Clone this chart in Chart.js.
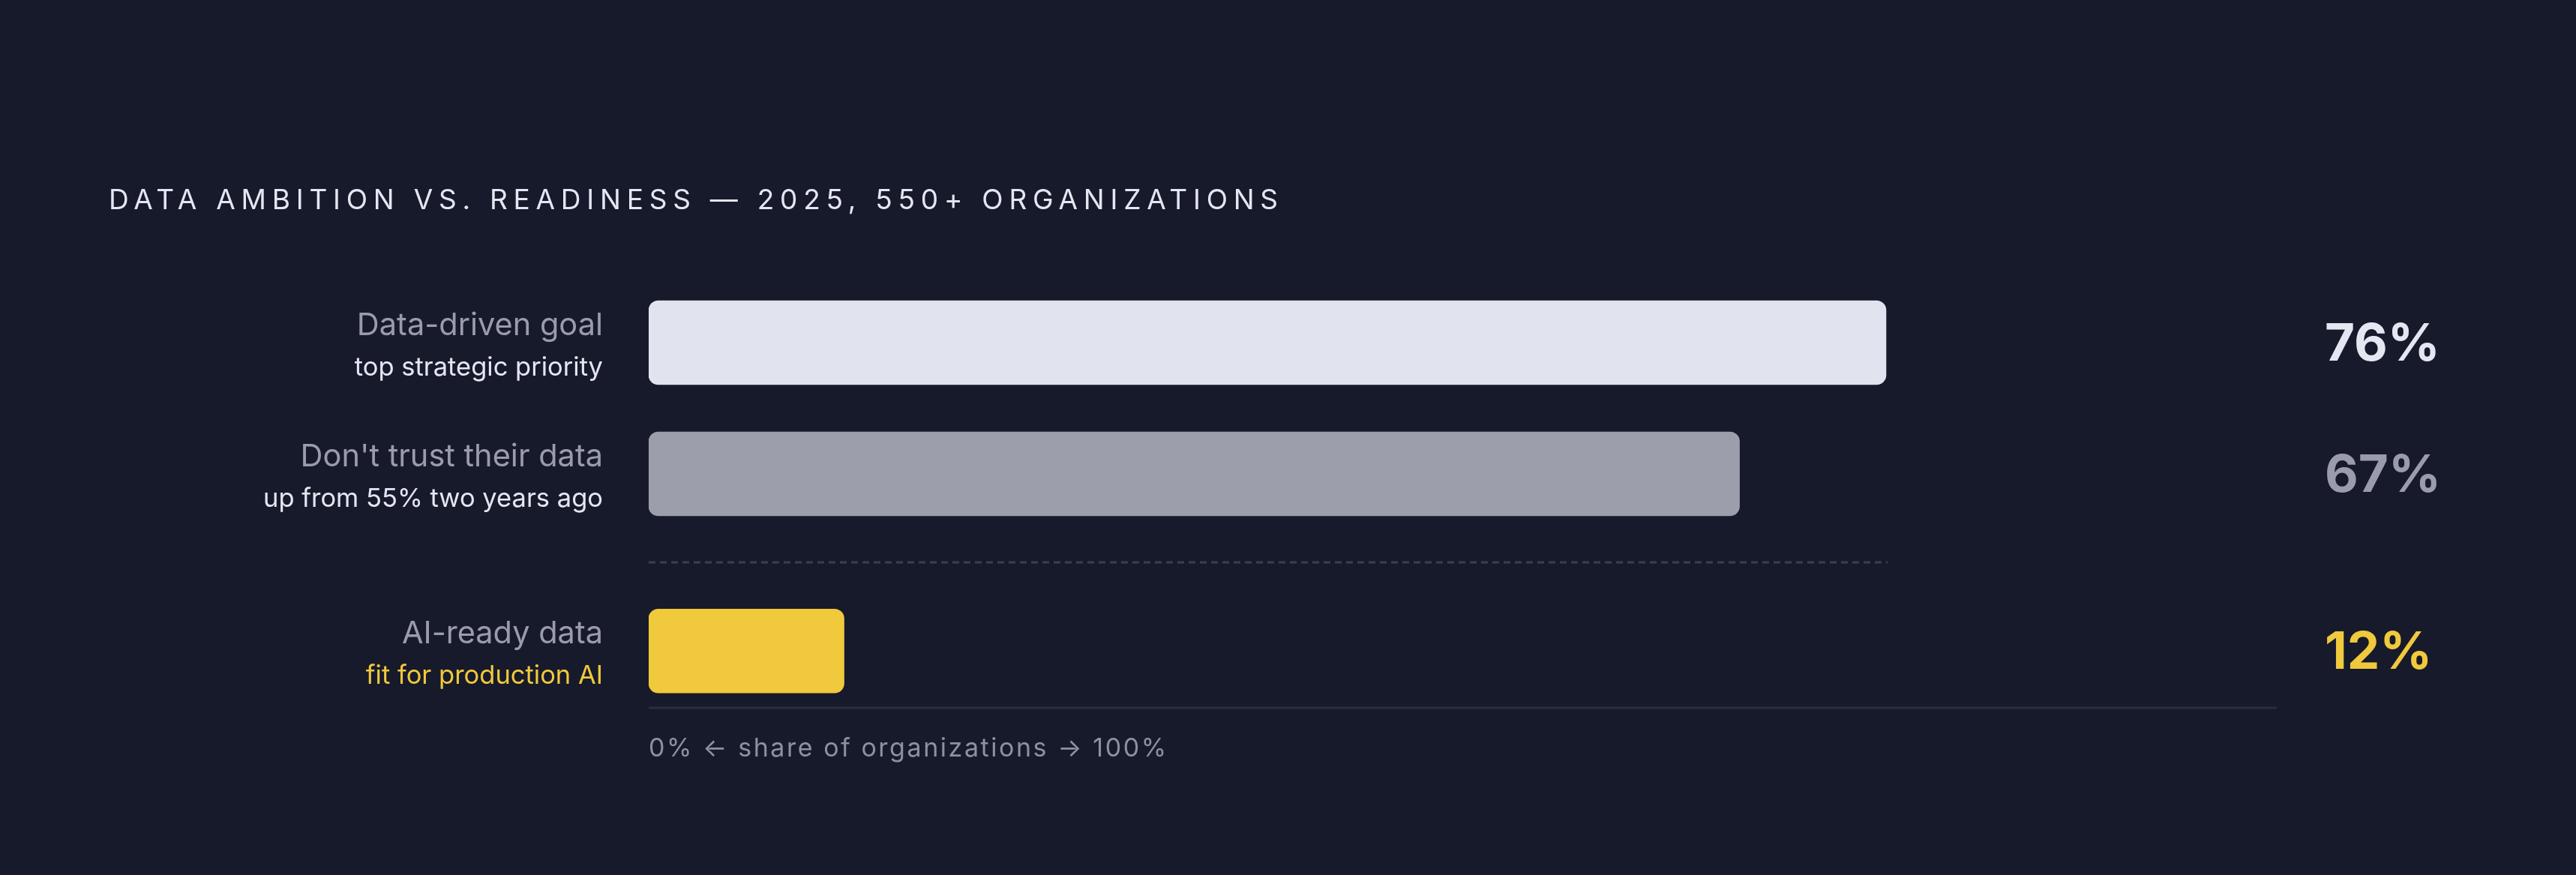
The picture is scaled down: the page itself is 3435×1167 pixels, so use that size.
<!DOCTYPE html>
<html>
<head>
<meta charset="utf-8">
<script src="https://cdn.jsdelivr.net/npm/chart.js@4"></script>
<style>
  html, body { margin: 0; padding: 0; background: #171a2b; }
  #wrap { width: 3435px; height: 1167px; }
</style>
</head>
<body>
<div id="wrap"><canvas id="c" width="3435" height="1167"></canvas></div>
<script>
// ---- data ----
const titleText = "DATA AMBITION VS. READINESS \u2014 2025, 550+ ORGANIZATIONS";
const categories = ["Data-driven goal", "Don't trust their data", "AI-ready data"];
const subLabels = ["top strategic priority", "up from 55% two years ago", "fit for production AI"];
const values = [76, 67, 12];
const valueLabels = ["76%", "67%", "12%"];
const axisCaption = "0% \u2190 share of organizations \u2192 100%";

// ---- layout / style ----
const rowPos = [0, 1, 2.35];
const barColors = ["#e1e3ef", "#9c9eab", "#f0c93c"];
const valueColors = ["#e4e6f2", "#9a9cab", "#f0c93c"];
const subColors = ["#e4e6f2", "#e4e6f2", "#f0c93c"];
const BG = "#171a2b";

const overlay = {
  id: "overlay",
  afterDraw(chart) {
    const ctx = chart.ctx;
    const x = chart.scales.x, y = chart.scales.y;
    const x0 = x.getPixelForValue(0), x100 = x.getPixelForValue(100);
    ctx.save();
    // title
    ctx.font = "400 37px Inter";
    ctx.fillStyle = "#e4e6f2";
    ctx.textBaseline = "middle";
    ctx.textAlign = "left";
    ctx.letterSpacing = "0px";
    const tw = ctx.measureText(titleText).width;
    ctx.letterSpacing = ((1559 - tw) / (titleText.length - 1)).toFixed(2) + "px";
    ctx.fillText(titleText, 145, 268);
    ctx.letterSpacing = "0px";

    // row labels
    for (let i = 0; i < categories.length; i++) {
      const cy = y.getPixelForValue(rowPos[i]);
      ctx.textAlign = "right";
      ctx.textBaseline = "alphabetic";
      ctx.font = "400 41.5px Inter";
      ctx.fillStyle = "#9a9cab";
      ctx.fillText(categories[i], 804, cy - 10);
      ctx.font = "400 34.5px Inter";
      ctx.fillStyle = subColors[i];
      ctx.fillText(subLabels[i], 804, cy + 44);
      // value
      ctx.textAlign = "left";
      ctx.textBaseline = "middle";
      ctx.font = "700 69px Inter";
      ctx.fillStyle = valueColors[i];
      ctx.fillText(valueLabels[i], 3100, cy + 3);
    }

    // dashed separator between groups
    const sepY = y.getPixelForValue((rowPos[1] + rowPos[2]) / 2);
    ctx.strokeStyle = "#3b3e51";
    ctx.lineWidth = 3;
    ctx.setLineDash([9, 6]);
    ctx.beginPath();
    ctx.moveTo(x0, sepY);
    ctx.lineTo(x.getPixelForValue(Math.max(values[0], values[1])) + 2, sepY);
    ctx.stroke();
    ctx.setLineDash([]);

    // axis baseline
    const by = chart.chartArea.bottom;
    ctx.strokeStyle = "#2b2e40";
    ctx.lineWidth = 3;
    ctx.beginPath();
    ctx.moveTo(x0, by);
    ctx.lineTo(x100, by);
    ctx.stroke();

    // axis caption
    ctx.font = "400 34px Inter";
    ctx.fillStyle = "#8d90a1";
    ctx.textAlign = "left";
    ctx.textBaseline = "middle";
    const cw = ctx.measureText(axisCaption).width;
    ctx.letterSpacing = ((690 - cw) / (axisCaption.length - 1)).toFixed(2) + "px";
    ctx.fillText(axisCaption, x0, 999);
    ctx.restore();
  }
};

const bgPlugin = {
  id: "bg",
  beforeDraw(chart) {
    const ctx = chart.ctx;
    ctx.save();
    ctx.fillStyle = BG;
    ctx.fillRect(0, 0, chart.width, chart.height);
    ctx.restore();
  }
};

new Chart(document.getElementById("c"), {
  type: "bar",
  data: {
    datasets: [{
      data: values.map((v, i) => ({ x: v, y: rowPos[i] })),
      backgroundColor: barColors,
      borderWidth: 0,
      borderRadius: 13,
      borderSkipped: false,
      barThickness: 112
    }]
  },
  options: {
    indexAxis: "y",
    responsive: false,
    animation: false,
    devicePixelRatio: 1,
    layout: { padding: { left: 865, right: 399, top: 369.5, bottom: 223 } },
    scales: {
      x: { type: "linear", min: 0, max: 100, display: false, offset: false },
      y: { type: "linear", min: -0.5, max: 2.783, reverse: true, display: false, offset: false, grace: 0 }
    },
    plugins: { legend: { display: false }, tooltip: { enabled: false }, title: { display: false } }
  },
  plugins: [bgPlugin, overlay]
});
</script>
</body>
</html>
